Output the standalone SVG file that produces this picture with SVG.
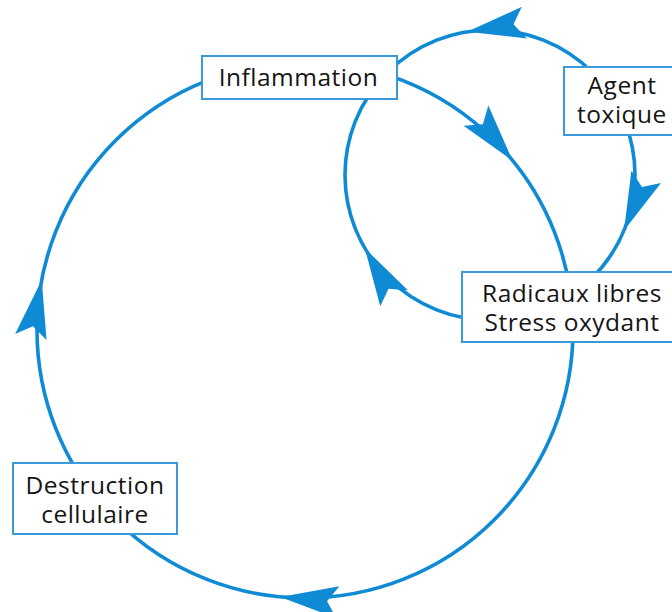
<svg xmlns="http://www.w3.org/2000/svg" xmlns:xlink="http://www.w3.org/1999/xlink" width="672" height="612" viewBox="0 0 672 612">
<style>
.loop{fill:none;stroke:#0f8ad4;stroke-width:3.6}
.arrow{fill:#0f8ad4}
.box{fill:#fff;stroke:#3a9ad8;stroke-width:2}
.lbl{font-family:"Open Sans","Noto Sans",sans-serif;font-size:24.5px;letter-spacing:0.5px;fill:#151515;text-anchor:middle}
</style>
<defs>
<path id="ah" d="M0,0 L-58,-16 L-47,0 L-58,16 Z"/>
</defs>
<rect width="672" height="612" fill="#fff"/>
<g id="connectors">
<circle class="loop" cx="305" cy="330" r="268"/>
<circle class="loop" cx="490" cy="175" r="145"/>
<use href="#ah" class="arrow" transform="translate(512.6,160.6) rotate(50.8)"/>
<use href="#ah" class="arrow" transform="translate(280.2,596.9) rotate(185.3)"/>
<use href="#ah" class="arrow" transform="translate(41.7,280) rotate(-79.2)"/>
<use href="#ah" class="arrow" transform="translate(467.1,31.8) rotate(170.9)"/>
<use href="#ah" class="arrow" transform="translate(624,230.5) rotate(112.5)"/>
<use href="#ah" class="arrow" transform="translate(364.8,248.2) rotate(239.7)"/>
</g>
<g id="inflammation">
<rect class="box" x="202" y="56" width="195" height="43"/>
<text class="lbl" x="298.5" y="85.5">Inflammation</text>
</g>
<g id="agent-toxique">
<rect class="box" x="564" y="67" width="120" height="68"/>
<text class="lbl" x="622" y="94"><tspan x="622" y="94">Agent</tspan><tspan x="622" y="122.5">toxique</tspan></text>
</g>
<g id="radicaux-libres">
<rect class="box" x="462" y="272" width="220" height="70"/>
<text class="lbl" x="572" y="302"><tspan x="572" y="302">Radicaux libres</tspan><tspan x="572" y="331">Stress oxydant</tspan></text>
</g>
<g id="destruction-cellulaire">
<rect class="box" x="13" y="463" width="164" height="71"/>
<text class="lbl" x="95" y="493.5"><tspan x="95" y="493.5">Destruction</tspan><tspan x="95" y="522.5">cellulaire</tspan></text>
</g>
</svg>
